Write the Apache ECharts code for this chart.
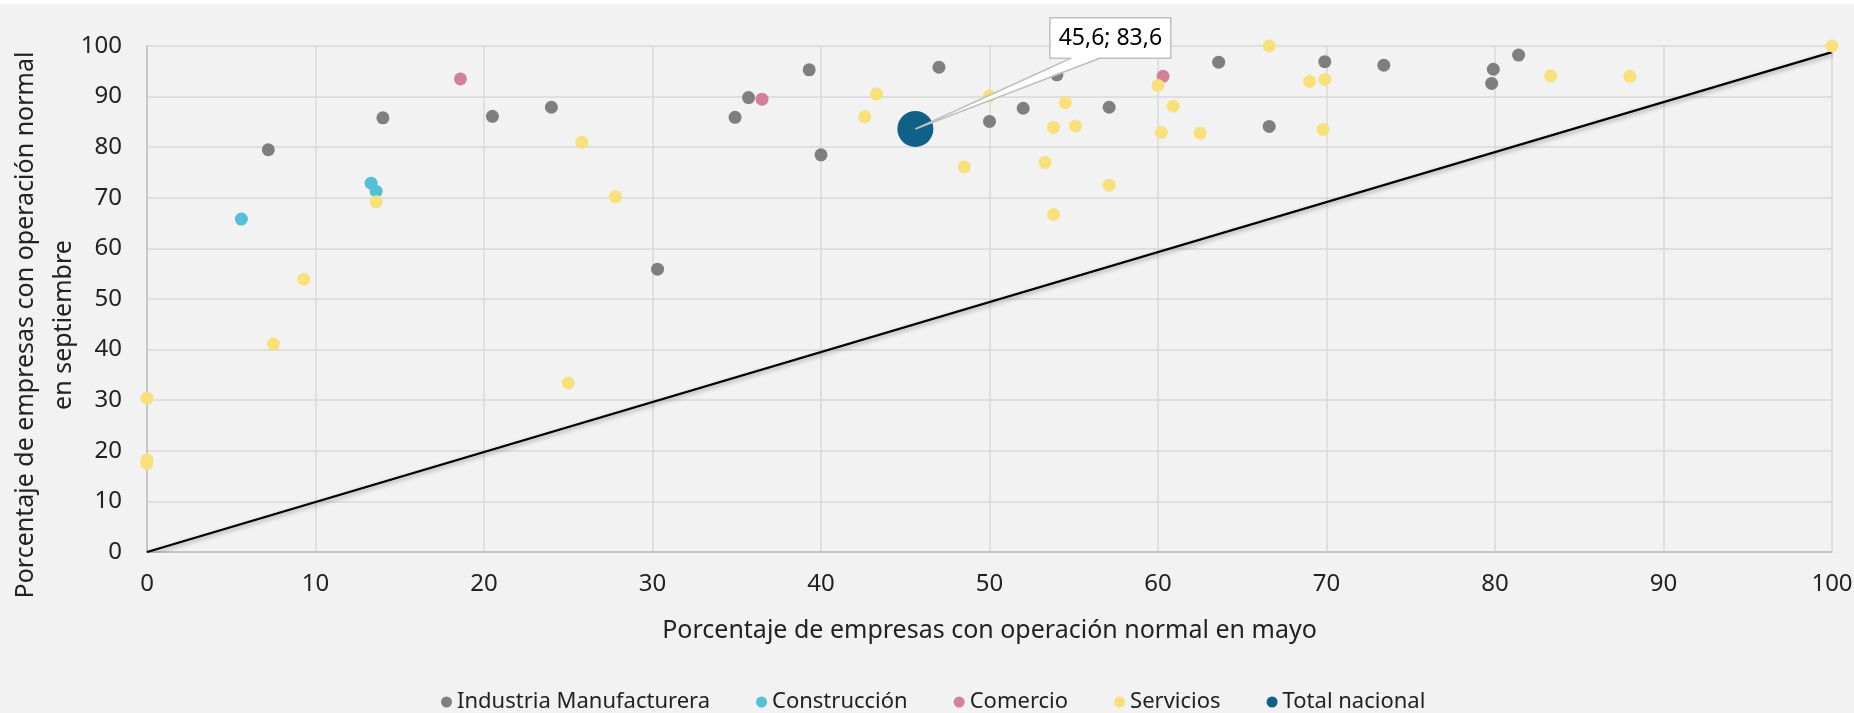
<!DOCTYPE html>
<html>
<head>
<meta charset="utf-8">
<script src="https://cdn.jsdelivr.net/npm/echarts@6/dist/echarts.min.js"></script>
<style>
    body { margin: 0; background: #ffffff; }
    #main { width: 1854px; height: 709px; margin-top: 4px; background: #f2f2f2; }
</style>
</head>
<body>
<div id="main"></div>
<script>
// puntos [mayo, septiembre] por sector
var industria = [
    [7.2, 79.5], [14.0, 85.8], [20.5, 86.1], [24.0, 87.9], [30.3, 55.9], [34.9, 85.9],
    [35.7, 89.8], [39.3, 95.3], [40.0, 78.5], [47.0, 95.8], [50.0, 85.1], [52.0, 87.7],
    [54.0, 94.3], [57.1, 87.9], [63.6, 96.8], [66.6, 84.1], [69.9, 96.9], [73.4, 96.2],
    [79.9, 95.4], [79.8, 92.6], [81.4, 98.2]
];
var construccion = [[5.6, 65.8], [13.3, 72.9], [13.6, 71.3]];
var comercio = [[18.6, 93.5], [36.5, 89.5], [60.3, 94.0]];
var servicios = [
    [0, 30.4], [0, 18.2], [0, 17.5], [7.5, 41.1], [9.3, 53.9], [13.6, 69.2], [25.0, 33.4],
    [25.8, 81.0], [27.8, 70.2], [42.6, 86.0], [43.3, 90.5], [48.5, 76.1], [50.0, 90.1],
    [53.3, 77.0], [53.8, 66.7], [53.8, 83.9], [54.5, 88.8], [55.1, 84.2], [57.1, 72.5],
    [60.0, 92.2], [60.2, 82.9], [60.9, 88.1], [62.5, 82.8], [66.6, 100], [69.0, 93.0],
    [69.9, 93.4], [69.8, 83.5], [83.3, 94.1], [88.0, 94.0], [100, 100]
];
var totalNacional = [[45.6, 83.6]];
var diagonal = [[0, 0], [100, 98.8]];
var seriesNames = ['Industria Manufacturera', 'Construcción', 'Comercio', 'Servicios', 'Total nacional'];
var colors = ['#7f7f7f', '#55bfd7', '#d5809a', '#f8e07b', '#0f6187'];

var font = 'Noto Sans';
var calloutDx = 195, calloutDy = -91;   // desplazamiento de la etiqueta
var myChart = echarts.init(document.getElementById('main'));

function dots(name, data, color) {
    return {
        name: name,
        type: 'scatter',
        data: data,
        symbolSize: 13,
        itemStyle: {color: color, opacity: 1},
        z: 3
    };
}

function fmt(v) {
    return String(v).replace('.', ',');
}

var option = {
    animation: false,
    backgroundColor: '#f2f2f2',
    textStyle: {fontFamily: font},
    grid: {left: 147, right: 22, top: 42, bottom: 161, outerBoundsMode: 'none', containLabel: false},
    legend: {
        data: seriesNames.map(function (n, i) {
            return {name: n, itemStyle: {color: colors[i]}};
        }),
        top: 682,
        left: 436,
        icon: 'circle',
        itemWidth: 11,
        itemHeight: 11,
        itemGap: 46,
        textStyle: {fontFamily: font, fontSize: 22, color: '#222'}
    },
    xAxis: {
        type: 'value',
        min: 0,
        max: 100,
        interval: 10,
        name: 'Porcentaje de empresas con operación normal en mayo',
        nameLocation: 'middle',
        nameGap: 66,
        nameTextStyle: {fontFamily: font, fontSize: 25, color: '#222'},
        axisLine: {show: true, lineStyle: {color: '#bfbfbf', width: 1.5}},
        axisTick: {show: false},
        axisLabel: {margin: 20, fontSize: 24, color: '#222', fontFamily: font},
        splitLine: {lineStyle: {color: '#d9d9d9', width: 1.5}}
    },
    yAxis: {
        type: 'value',
        min: 0,
        max: 100,
        interval: 10,
        name: 'Porcentaje de empresas con operación normal\nen septiembre',
        nameLocation: 'middle',
        nameGap: 64,
        nameMoveOverlap: false,
        nameTextStyle: {fontFamily: font, fontSize: 25, color: '#222', lineHeight: 38, padding: [0, 52, 0, 0]},
        axisLine: {show: true, lineStyle: {color: '#bfbfbf', width: 1.5}},
        axisTick: {show: false},
        axisLabel: {margin: 25, fontSize: 24, color: '#222', fontFamily: font},
        splitLine: {lineStyle: {color: '#d9d9d9', width: 1.5}}
    },
    series: [
        {
            name: 'diagonal',
            type: 'line',
            data: diagonal,
            symbol: 'none',
            silent: true,
            lineStyle: {
                color: '#000', width: 2.2,
                shadowBlur: 4, shadowColor: 'rgba(0,0,0,0.35)', shadowOffsetY: 2, shadowOffsetX: 1
            },
            z: 2
        },
        dots(seriesNames[0], industria, colors[0]),
        dots(seriesNames[1], construccion, colors[1]),
        dots(seriesNames[2], comercio, colors[2]),
        dots(seriesNames[3], servicios, colors[3]),
        {
            name: seriesNames[4],
            type: 'scatter',
            data: totalNacional,
            symbolSize: 36,
            itemStyle: {color: colors[4], opacity: 1},
            z: 4,
            label: {
                show: true,
                position: 'inside',
                formatter: function (p) {
                    return fmt(p.value[0]) + '; ' + fmt(p.value[1]);
                },
                fontFamily: font,
                fontSize: 23,
                color: '#000',
                backgroundColor: '#ffffff',
                borderColor: '#bfbfbf',
                borderWidth: 1.5,
                padding: [9, 8, 7, 8]
            },
            labelLayout: {dx: calloutDx, dy: calloutDy}
        }
    ]
};
myChart.setOption(option);

/* cuña del globo de texto, calculada desde la posición del punto */
var p = myChart.convertToPixel({seriesIndex: 5}, totalNacional[0]);
var cx = p[0] + calloutDx, baseY = p[1] + calloutDy + 20;
myChart.setOption({
    graphic: [
        {
            type: 'polygon',
            z: 100,
            shape: {points: [[p[0], p[1]], [cx - 39, baseY - 1], [cx - 10, baseY - 1]]},
            style: {fill: '#ffffff'}
        },
        {
            type: 'polyline',
            z: 101,
            shape: {points: [[cx - 39, baseY], [p[0], p[1]], [cx - 10, baseY]]},
            style: {stroke: '#bfbfbf', lineWidth: 1.5, fill: null}
        }
    ]
});
</script>
</body>
</html>
